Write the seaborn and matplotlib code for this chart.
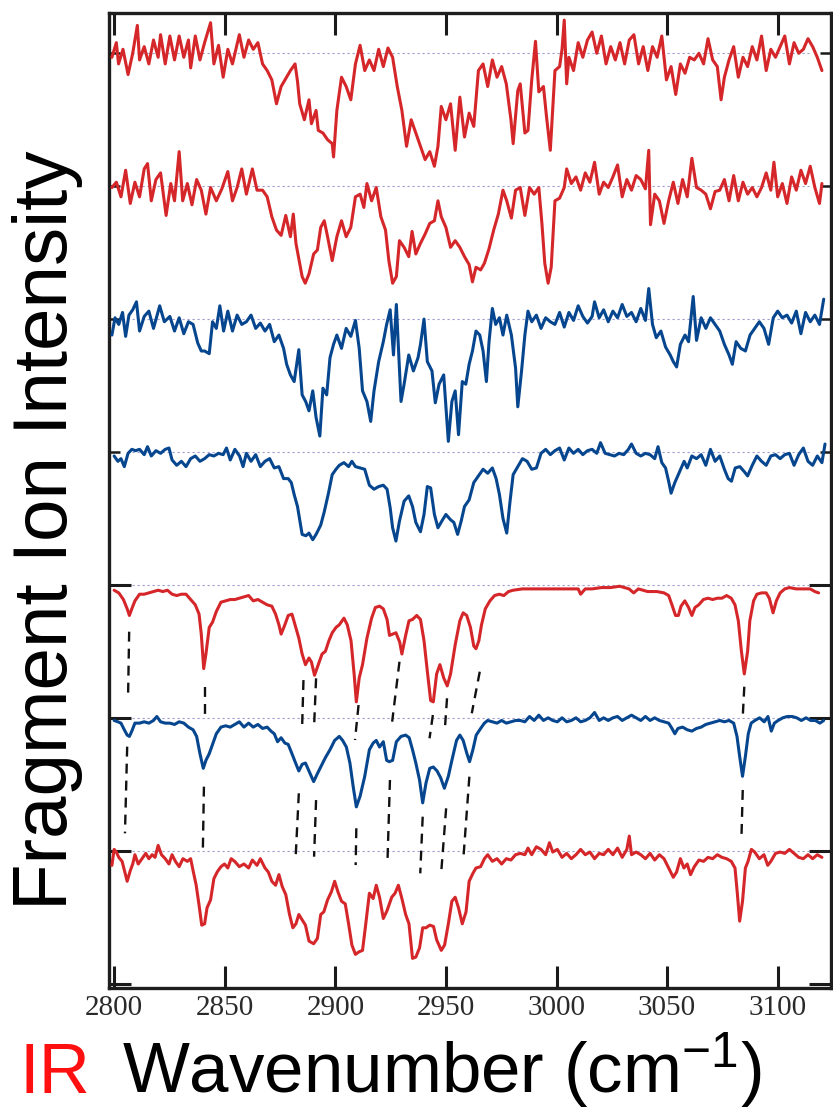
import matplotlib
matplotlib.use("Agg")
import matplotlib.pyplot as plt
import seaborn as sns
import numpy as np
import pandas as pd

# ---- spectra, top to bottom (wavenumber in cm-1, intensity normalised to baseline = 1) ----
wn1 = [2799, 2801, 2802, 2804, 2806.3, 2808.4, 2810.5, 2811.5, 2813.6, 2815.7,
       2817.8, 2819.9, 2821, 2823.1, 2825.2, 2827.3, 2829.4, 2831.5, 2833.6, 2834.6,
       2836.7, 2838.8, 2840.9, 2843.6, 2845.1, 2847.2, 2849.3, 2851.4, 2853.5, 2856.6,
       2858.7, 2860.8, 2862.9, 2865, 2867.1, 2869.2, 2871.3, 2873.4, 2875.5, 2877.6,
       2879.7, 2881.8, 2882.9, 2883.9, 2886, 2888.1, 2889.2, 2891.3, 2892.3, 2894.4,
       2896.5, 2898.6, 2899.2, 2900.7, 2902.8, 2904.9, 2907, 2909.1, 2911.2, 2913.3,
       2915.4, 2917.5, 2919.6, 2921.7, 2923.8, 2925.9, 2928, 2930.1, 2932.2, 2934.3,
       2936.4, 2938.5, 2940.6, 2942.7, 2944.8, 2946.4, 2947.9, 2950, 2952.1, 2954.2,
       2956.3, 2958.4, 2960.5, 2962.6, 2964.7, 2966.8, 2968.9, 2971, 2973.1, 2975.2,
       2977.3, 2979.4, 2980.4, 2982.5, 2983.6, 2985.7, 2987.1, 2988.8, 2990.5, 2992,
       2994.1, 2995.5, 2997.2, 2999.3, 3001.4, 3002.5, 3003.5, 3004.6, 3005.6, 3007.7,
       3009.8, 3011.9, 3014, 3016.1, 3018.2, 3020.3, 3022.4, 3024.5, 3026.6, 3028.7,
       3030.8, 3032.9, 3035, 3037.1, 3039.2, 3041.3, 3043.4, 3045.5, 3047.6, 3049.7,
       3051.8, 3053.9, 3056, 3058.1, 3060.2, 3062.3, 3064.4, 3066.5, 3068.5, 3070.6,
       3072.7, 3074.4, 3075.9, 3078, 3080.1, 3082.2, 3084.3, 3086.4, 3088.5, 3090.6,
       3092.7, 3094.8, 3096.9, 3099, 3101.1, 3103.2, 3105.3, 3107.4, 3109.5, 3111.6,
       3113.7, 3115.8, 3117.9, 3120]
int1 = [0.97, 1.08, 0.92, 1.03, 0.84, 1.00, 1.21, 0.95, 1.05, 0.92,
        1.10, 0.97, 1.14, 0.92, 1.13, 0.95, 1.13, 0.97, 1.10, 0.89,
        1.13, 0.95, 1.08, 1.23, 0.92, 1.06, 0.82, 1.03, 0.92, 1.14,
        0.97, 1.10, 1.03, 1.08, 0.92, 0.87, 0.80, 0.62, 0.75, 0.81,
        0.87, 0.92, 0.79, 0.62, 0.50, 0.65, 0.47, 0.57, 0.42, 0.40,
        0.35, 0.32, 0.22, 0.57, 0.82, 0.75, 0.65, 0.92, 1.06, 0.87,
        0.95, 0.87, 1.03, 0.90, 1.04, 0.97, 0.75, 0.57, 0.30, 0.50,
        0.40, 0.30, 0.20, 0.26, 0.15, 0.30, 0.60, 0.50, 0.62, 0.27,
        0.67, 0.37, 0.55, 0.45, 0.87, 0.92, 0.75, 0.95, 0.82, 0.90,
        0.77, 0.50, 0.32, 0.72, 0.77, 0.40, 0.42, 0.80, 1.09, 0.71,
        0.75, 0.52, 0.27, 0.87, 0.90, 1.03, 1.25, 0.77, 0.97, 0.87,
        1.08, 0.97, 1.10, 1.16, 1.00, 1.13, 0.92, 1.05, 0.95, 1.08,
        0.92, 1.10, 1.14, 0.92, 1.05, 0.87, 1.05, 0.97, 1.13, 0.80,
        0.90, 0.69, 0.92, 0.85, 0.97, 0.95, 1.00, 0.92, 1.11, 0.95,
        0.90, 0.65, 0.82, 0.95, 1.05, 0.82, 0.97, 0.90, 1.05, 0.95,
        1.13, 0.87, 1.03, 0.97, 1.05, 1.13, 0.92, 1.08, 1.00, 1.03,
        1.11, 1.05, 0.97, 0.87]

wn2 = [2799, 2801, 2803.1, 2805.2, 2807.3, 2809.4, 2811.5, 2813.6, 2815.1, 2816.8,
       2818.9, 2821, 2823.5, 2825.6, 2827.3, 2829.4, 2831, 2833.1, 2835.2, 2837.3,
       2839.4, 2841.5, 2843.6, 2846.2, 2848.7, 2851.4, 2853.5, 2855.6, 2857.7, 2859.8,
       2862.5, 2864.6, 2867.1, 2869.2, 2871.3, 2873.4, 2875.5, 2877.6, 2879.7, 2881,
       2882.2, 2883.9, 2885, 2886.4, 2888.1, 2890.2, 2891.9, 2893.4, 2895, 2896.5,
       2898.6, 2900.7, 2902.8, 2904.9, 2907, 2909.1, 2911.2, 2912.9, 2914.3, 2916.4,
       2918.5, 2920.6, 2922.7, 2924.2, 2925.9, 2927.6, 2929, 2931.1, 2933.2, 2934.7,
       2936.4, 2938.5, 2940.6, 2942.7, 2944.8, 2946.4, 2947.9, 2950, 2952.1, 2954.2,
       2956.3, 2958.4, 2960.5, 2962, 2963.6, 2965.7, 2967.4, 2969.5, 2971.6, 2973.7,
       2975.8, 2977.5, 2979.6, 2981.5, 2983.6, 2985.7, 2987.8, 2989.9, 2992, 2993.4,
       2994.7, 2996.2, 2997.6, 2999.3, 3001.4, 3003.5, 3004.6, 3006.7, 3008.8, 3010.9,
       3013, 3015.1, 3017.2, 3019.3, 3021.3, 3023.4, 3025.5, 3027.6, 3029.7, 3031.8,
       3033.9, 3036, 3038.1, 3040.2, 3041.7, 3042.5, 3044.4, 3046.5, 3048.6, 3050.7,
       3052.8, 3054.9, 3057, 3059.1, 3061.2, 3063.3, 3065.4, 3067.5, 3069.6, 3071.7,
       3073.8, 3075.9, 3078, 3080.1, 3082.2, 3084.3, 3086.4, 3088.5, 3090.6, 3092.7,
       3094.8, 3096.9, 3098.3, 3100, 3102.1, 3104.2, 3106.3, 3108.4, 3110.5, 3112.6,
       3114.7, 3116.8, 3118.9, 3120]
int2 = [0.99, 1.03, 0.92, 1.12, 0.87, 1.03, 0.92, 1.13, 1.17, 0.89,
        1.05, 1.10, 0.78, 1.02, 0.89, 1.26, 0.89, 1.02, 0.86, 1.05,
        0.97, 0.79, 0.99, 0.89, 0.98, 1.11, 0.89, 0.99, 1.13, 0.94,
        1.13, 0.97, 0.97, 0.92, 0.77, 0.67, 0.63, 0.78, 0.62, 0.79,
        0.57, 0.42, 0.32, 0.27, 0.34, 0.49, 0.52, 0.69, 0.74, 0.62,
        0.44, 0.62, 0.74, 0.62, 0.69, 0.92, 0.94, 0.84, 1.02, 0.89,
        0.99, 0.77, 0.67, 0.44, 0.27, 0.32, 0.59, 0.54, 0.47, 0.66,
        0.49, 0.57, 0.64, 0.72, 0.74, 0.89, 0.77, 0.69, 0.54, 0.59,
        0.54, 0.47, 0.41, 0.28, 0.39, 0.37, 0.42, 0.53, 0.67, 0.79,
        0.97, 0.89, 0.76, 0.97, 0.99, 0.78, 0.99, 0.94, 0.99, 0.72,
        0.42, 0.27, 0.39, 0.89, 0.91, 0.99, 1.13, 1.02, 1.07, 0.97,
        1.10, 1.03, 1.18, 0.94, 1.03, 0.99, 1.07, 1.16, 0.92, 1.05,
        0.97, 1.08, 1.05, 0.98, 1.27, 0.71, 0.94, 0.89, 0.72, 0.89,
        1.03, 0.87, 1.05, 0.92, 1.21, 0.99, 0.97, 0.94, 0.83, 0.96,
        0.97, 1.05, 0.89, 1.08, 0.89, 1.03, 0.94, 0.99, 0.92, 0.99,
        1.10, 0.97, 1.18, 0.92, 1.02, 0.87, 1.07, 0.97, 1.12, 1.02,
        1.15, 0.99, 0.87, 1.02]

wn3 = [2799, 2800.4, 2802.1, 2803.8, 2805.2, 2806.7, 2808.4, 2810.1, 2811.5, 2813.6,
       2815.7, 2817.8, 2820.6, 2822.7, 2825.2, 2827.3, 2829.4, 2831.5, 2833.6, 2835.7,
       2837.8, 2839.4, 2840.9, 2843, 2844.5, 2846.2, 2847.8, 2849.5, 2851.4, 2853.5,
       2855.6, 2857.7, 2859.8, 2861.9, 2864, 2866.1, 2868.2, 2870.3, 2872.4, 2874.5,
       2876.6, 2878, 2879.7, 2881.4, 2883.5, 2885, 2886.6, 2888.1, 2889.8, 2891.3,
       2893, 2894.4, 2896.1, 2897.6, 2899.2, 2900.7, 2902.8, 2904.9, 2907, 2909.1,
       2910.8, 2912.3, 2914.3, 2916, 2917.5, 2919.6, 2921.7, 2923.2, 2924.8, 2926.3,
       2927.6, 2929.7, 2931.1, 2933.2, 2935.3, 2937.4, 2938.5, 2940.1, 2941.6, 2943.7,
       2945.2, 2946.9, 2949, 2951.1, 2952.7, 2954.2, 2955.7, 2957.4, 2959, 2960.5,
       2962, 2963.6, 2965.3, 2966.8, 2968.3, 2969.5, 2971, 2972.5, 2974.2, 2975.8,
       2977.5, 2979.6, 2981.5, 2982.5, 2984.2, 2985.7, 2987.1, 2988.8, 2990.9, 2993,
       2995.1, 2997.2, 2999.3, 3001.4, 3003.5, 3005.6, 3007.7, 3009.8, 3011.9, 3014,
       3016.1, 3017.2, 3019.3, 3021.3, 3023.4, 3025.5, 3027.6, 3029.7, 3031.8, 3033.9,
       3036, 3038.1, 3040.2, 3041.7, 3043.4, 3045.1, 3047.2, 3049.3, 3051.4, 3052.8,
       3054.3, 3056, 3058.1, 3059.7, 3061.8, 3063.3, 3065.4, 3067.5, 3069.6, 3071.7,
       3073.8, 3075.9, 3078, 3079.5, 3081.2, 3083.3, 3085.4, 3087.5, 3089.6, 3091.7,
       3093.8, 3095.9, 3098, 3100, 3102.1, 3104.2, 3106.3, 3108.4, 3110.5, 3112.6,
       3114.7, 3116.8, 3118.9, 3120.8]
int3 = [0.88, 1.01, 0.96, 1.05, 0.87, 1.03, 1.07, 1.13, 0.91, 1.02,
        1.06, 0.93, 1.10, 0.98, 1.02, 0.91, 1.01, 0.89, 0.98, 0.96,
        0.82, 0.76, 0.76, 0.74, 0.98, 0.93, 1.10, 0.91, 1.06, 0.91,
        1.03, 0.96, 0.98, 1.03, 0.93, 0.97, 0.91, 0.96, 0.83, 0.88,
        0.78, 0.66, 0.58, 0.53, 0.77, 0.43, 0.38, 0.31, 0.46, 0.26,
        0.12, 0.48, 0.43, 0.71, 0.81, 0.88, 0.78, 0.93, 0.87, 0.99,
        0.78, 0.46, 0.38, 0.23, 0.46, 0.68, 0.83, 0.96, 1.07, 0.73,
        1.11, 0.38, 0.51, 0.73, 0.61, 0.71, 0.81, 1.00, 0.68, 0.61,
        0.37, 0.51, 0.58, 0.08, 0.38, 0.46, 0.13, 0.53, 0.51, 0.66,
        0.76, 0.91, 0.88, 0.76, 0.53, 0.83, 1.08, 0.96, 1.01, 0.88,
        1.03, 0.88, 0.63, 0.34, 0.61, 0.88, 1.06, 0.98, 1.03, 0.93,
        1.01, 0.98, 0.96, 1.05, 0.94, 1.05, 0.99, 1.10, 1.02, 0.97,
        1.02, 1.13, 1.01, 1.07, 0.98, 1.06, 1.01, 1.11, 1.02, 1.05,
        0.98, 1.08, 0.99, 1.23, 0.96, 0.86, 0.91, 0.79, 0.73, 0.68,
        0.64, 0.81, 0.88, 0.83, 1.17, 0.84, 1.01, 0.93, 1.01, 0.96,
        0.91, 0.81, 0.73, 0.66, 0.83, 0.78, 0.76, 0.88, 0.93, 0.98,
        0.93, 0.81, 1.01, 1.06, 1.01, 1.03, 0.97, 1.06, 0.89, 1.05,
        0.98, 1.03, 0.96, 1.15]

wn4 = [2800, 2801.7, 2803.1, 2804.6, 2806.3, 2808, 2809.7, 2811.5, 2813.6, 2815.1,
       2816.8, 2818.9, 2821, 2823.1, 2824.8, 2826.2, 2828.3, 2830.4, 2832.5, 2834.6,
       2836.7, 2838.8, 2840.9, 2843, 2845.1, 2847.2, 2849.3, 2850.8, 2852.5, 2854.6,
       2856.7, 2858.3, 2859.8, 2861.9, 2864, 2866.1, 2868.2, 2870.3, 2872.4, 2874.5,
       2876.6, 2878.7, 2880.1, 2881.4, 2882.9, 2884, 2885, 2886.7, 2888.1, 2889.8,
       2891.3, 2893.4, 2895, 2896.9, 2898.6, 2900.3, 2901.8, 2903.9, 2906, 2907.5,
       2909.1, 2911.2, 2913.3, 2915.4, 2917.5, 2919.6, 2921.7, 2923.4, 2924.8, 2925.9,
       2927.4, 2929, 2931.1, 2933.2, 2934.9, 2936.4, 2938.5, 2940.1, 2941.6, 2943.1,
       2944.8, 2946.4, 2948.5, 2950, 2952.1, 2953.6, 2955.3, 2956.9, 2958.4, 2960.5,
       2962.6, 2964.7, 2966.8, 2968.9, 2971, 2972.7, 2974.2, 2975.8, 2977.5, 2979,
       2980.4, 2982.5, 2984.6, 2986.7, 2988.8, 2990.9, 2993, 2995.1, 2997.2, 2999.3,
       3001.4, 3003.5, 3005.6, 3007.7, 3009.8, 3011.9, 3014, 3016.1, 3018.2, 3019.9,
       3022, 3024.1, 3026.2, 3028.3, 3030.4, 3032.5, 3033.9, 3036, 3038.1, 3040.2,
       3042.3, 3044.4, 3045.9, 3047.6, 3049.3, 3050.7, 3051.8, 3053.5, 3055.6, 3057.7,
       3059.1, 3061.2, 3063.3, 3065.4, 3067.5, 3069.6, 3071.7, 3073.8, 3075.9, 3077.6,
       3079.1, 3080.8, 3082.9, 3085, 3086.4, 3088.5, 3090.6, 3092.7, 3094.8, 3096.9,
       3099, 3101.1, 3103.2, 3105.3, 3107.4, 3109.5, 3111.6, 3113.7, 3115.8, 3117.9,
       3120, 3121.4]
int4 = [0.97, 0.93, 0.95, 0.89, 0.99, 1.02, 1.01, 1.02, 0.98, 1.04,
        0.97, 1.01, 0.99, 1.02, 1.03, 0.94, 0.90, 0.93, 0.89, 0.95,
        0.97, 0.93, 0.95, 0.98, 0.97, 0.99, 0.98, 1.03, 0.94, 1.02,
        0.97, 0.89, 0.99, 0.93, 0.98, 0.89, 0.93, 0.95, 0.88, 0.89,
        0.80, 0.80, 0.77, 0.68, 0.59, 0.48, 0.38, 0.37, 0.39, 0.34,
        0.38, 0.45, 0.55, 0.69, 0.83, 0.87, 0.90, 0.92, 0.89, 0.93,
        0.89, 0.88, 0.87, 0.75, 0.72, 0.74, 0.75, 0.72, 0.58, 0.43,
        0.33, 0.48, 0.63, 0.67, 0.59, 0.47, 0.40, 0.53, 0.74, 0.73,
        0.53, 0.43, 0.49, 0.53, 0.49, 0.47, 0.38, 0.48, 0.59, 0.64,
        0.77, 0.82, 0.87, 0.84, 0.88, 0.80, 0.68, 0.50, 0.39, 0.63,
        0.83, 0.89, 0.95, 0.93, 0.87, 0.88, 0.99, 1.02, 0.98, 1.01,
        1.03, 0.94, 1.03, 0.99, 1.02, 0.98, 1.01, 1.02, 0.99, 1.07,
        0.99, 0.98, 0.97, 0.99, 0.98, 1.02, 1.06, 0.99, 0.97, 0.99,
        0.98, 0.95, 1.04, 0.92, 0.88, 0.78, 0.69, 0.77, 0.85, 0.93,
        0.88, 0.97, 0.95, 0.98, 0.90, 1.02, 0.93, 0.97, 0.87, 0.80,
        0.78, 0.88, 0.89, 0.85, 0.82, 0.90, 0.97, 0.93, 0.90, 0.97,
        0.98, 0.95, 0.98, 0.99, 0.90, 0.98, 1.03, 0.93, 0.90, 0.97,
        0.92, 1.06]

wn5 = [2800, 2802.1, 2804.2, 2805.9, 2806.9, 2808, 2809.4, 2811.5, 2813.6, 2815.7,
       2817.8, 2819.9, 2822, 2824.1, 2826.2, 2828.3, 2830.4, 2832.5, 2834.6, 2836.7,
       2838.4, 2839.4, 2840.5, 2841.5, 2843, 2844.5, 2846.2, 2848.3, 2850.4, 2852.5,
       2854.6, 2856.6, 2858.7, 2860.8, 2862.9, 2865, 2867.1, 2869.2, 2871.3, 2873,
       2874.5, 2875.5, 2877.2, 2878.7, 2880.4, 2881.8, 2883.5, 2885, 2886.5, 2888.1,
       2889.2, 2890.6, 2892.3, 2894, 2895.5, 2897.1, 2898.6, 2900.3, 2901.8, 2903.9,
       2905.4, 2907.1, 2908.5, 2909.5, 2910.8, 2912.3, 2914.3, 2916.4, 2918.1, 2920,
       2921.7, 2923.4, 2924.5, 2925.9, 2927.4, 2929.1, 2930.1, 2931.8, 2933.3, 2934.9,
       2936.8, 2938.5, 2940.1, 2941.6, 2943.1, 2944.3, 2945.8, 2947.3, 2949, 2950.6,
       2952.1, 2954.2, 2956.3, 2957.8, 2959.4, 2961.1, 2962.6, 2963.6, 2964.9, 2966.1,
       2967.8, 2969.9, 2972, 2974.1, 2976.2, 2978.3, 2980.4, 2984.6, 2988.8, 2993,
       2997.2, 3001.4, 3005.6, 3009.8, 3010.9, 3013, 3016.1, 3020.3, 3024.4, 3028.6,
       3032.8, 3034.9, 3037, 3041.2, 3045.4, 3048.6, 3050.7, 3052.2, 3053.8, 3055.1,
       3056.3, 3058, 3059.7, 3061.2, 3062.6, 3064.3, 3066.4, 3068.5, 3070.6, 3072.7,
       3074.8, 3076.9, 3079, 3080.7, 3082.2, 3083.6, 3084.9, 3086.4, 3087.4, 3089.1,
       3090.6, 3092.7, 3094.8, 3096.2, 3097.9, 3099.4, 3101.1, 3103.2, 3105.3, 3108.4,
       3111.6, 3114.7, 3116.8, 3118.5]
int5 = [0.96, 0.94, 0.89, 0.82, 0.77, 0.82, 0.88, 0.93, 0.93, 0.94,
        0.95, 0.96, 0.95, 0.96, 0.93, 0.92, 0.93, 0.93, 0.89, 0.85,
        0.78, 0.63, 0.37, 0.48, 0.68, 0.72, 0.80, 0.87, 0.88, 0.89,
        0.89, 0.90, 0.91, 0.92, 0.88, 0.89, 0.87, 0.85, 0.84, 0.78,
        0.70, 0.63, 0.70, 0.77, 0.78, 0.70, 0.60, 0.48, 0.40, 0.45,
        0.42, 0.32, 0.40, 0.48, 0.50, 0.58, 0.64, 0.68, 0.70, 0.75,
        0.70, 0.58, 0.33, 0.12, 0.30, 0.40, 0.60, 0.75, 0.83, 0.84,
        0.82, 0.74, 0.62, 0.63, 0.64, 0.57, 0.48, 0.62, 0.73, 0.74,
        0.77, 0.74, 0.58, 0.35, 0.13, 0.12, 0.33, 0.40, 0.30, 0.24,
        0.33, 0.55, 0.73, 0.79, 0.77, 0.68, 0.54, 0.52, 0.58, 0.70,
        0.82, 0.88, 0.92, 0.93, 0.92, 0.95, 0.96, 0.97, 0.97, 0.97,
        0.97, 0.97, 0.97, 0.97, 0.93, 0.97, 0.97, 0.98, 0.98, 0.99,
        0.97, 0.94, 0.97, 0.95, 0.95, 0.94, 0.92, 0.85, 0.77, 0.77,
        0.84, 0.88, 0.83, 0.77, 0.83, 0.85, 0.89, 0.90, 0.89, 0.90,
        0.90, 0.92, 0.90, 0.85, 0.73, 0.50, 0.33, 0.50, 0.73, 0.88,
        0.93, 0.94, 0.94, 0.90, 0.79, 0.88, 0.94, 0.97, 0.98, 0.97,
        0.97, 0.97, 0.95, 0.94]

wn6 = [2800, 2801.7, 2803.1, 2804.6, 2805.9, 2806.9, 2808, 2809.4, 2811.5, 2813.6,
       2815.7, 2817.8, 2819.3, 2821, 2823.1, 2825.2, 2827.3, 2829.4, 2831.5, 2833.6,
       2835.7, 2837.3, 2838.8, 2840.3, 2841.5, 2843, 2844.5, 2846.2, 2848.3, 2850.4,
       2852.5, 2854.6, 2856.6, 2858.7, 2860.8, 2862.9, 2865, 2867.1, 2869.2, 2870.9,
       2872.4, 2873.9, 2875.5, 2877.2, 2878.7, 2880.4, 2881.8, 2883.5, 2885, 2886.5,
       2888.1, 2890.2, 2891.9, 2893.4, 2895.5, 2897.6, 2899.7, 2901.8, 2903.3, 2905,
       2906.6, 2908.1, 2909.5, 2911.2, 2913.3, 2915.4, 2917.1, 2918.5, 2920, 2921.7,
       2923.2, 2924.4, 2925.9, 2927.6, 2929.7, 2931.8, 2933.4, 2934.9, 2936.4, 2938.1,
       2939.5, 2941, 2942.7, 2944.3, 2946, 2947.6, 2949.3, 2951.1, 2952.7, 2954.8,
       2956.3, 2957.8, 2959.5, 2960.7, 2962.2, 2963.7, 2965.7, 2967.4, 2968.9, 2971,
       2973.1, 2975.2, 2977.3, 2979.4, 2981.5, 2983.6, 2985.7, 2987.8, 2989.9, 2992,
       2994.1, 2996.2, 2998.3, 3000.4, 3002.5, 3004.6, 3006.7, 3008.8, 3010.9, 3013,
       3015.1, 3017.2, 3019.3, 3021.3, 3023.4, 3025.5, 3027.6, 3029.7, 3031.8, 3033.9,
       3036, 3038.1, 3040.2, 3042.3, 3044.4, 3046.5, 3048.6, 3050.7, 3052.2, 3053.5,
       3054.9, 3057, 3059.1, 3061.2, 3063.3, 3065.4, 3067.5, 3069.6, 3071.7, 3073.8,
       3075.9, 3078, 3080.1, 3081.6, 3082.8, 3084.1, 3085.4, 3086.7, 3088, 3089.7,
       3091.8, 3093.9, 3095.6, 3097.1, 3098.5, 3100.2, 3102.3, 3104.4, 3106.5, 3108.6,
       3110.7, 3112.8, 3114.9, 3117, 3119.1, 3120.8]
int6 = [0.98, 0.97, 0.96, 0.91, 0.87, 0.86, 0.90, 0.96, 0.96, 0.97,
        0.96, 0.98, 1.01, 0.97, 0.96, 0.96, 0.95, 0.97, 0.96, 0.93,
        0.91, 0.86, 0.73, 0.62, 0.68, 0.73, 0.80, 0.88, 0.93, 0.94,
        0.93, 0.95, 0.97, 0.93, 0.96, 0.93, 0.95, 0.92, 0.93, 0.90,
        0.88, 0.82, 0.85, 0.81, 0.80, 0.73, 0.67, 0.60, 0.65, 0.66,
        0.60, 0.52, 0.58, 0.63, 0.70, 0.76, 0.83, 0.86, 0.83, 0.78,
        0.66, 0.48, 0.33, 0.41, 0.56, 0.76, 0.81, 0.83, 0.78, 0.82,
        0.68, 0.67, 0.68, 0.82, 0.86, 0.87, 0.85, 0.76, 0.66, 0.53,
        0.36, 0.51, 0.62, 0.63, 0.60, 0.55, 0.47, 0.56, 0.68, 0.83,
        0.87, 0.83, 0.73, 0.67, 0.76, 0.87, 0.92, 0.96, 0.98, 0.97,
        0.96, 0.98, 0.96, 0.97, 0.98, 0.98, 0.97, 1.01, 0.98, 1.02,
        0.98, 1.00, 0.98, 0.97, 1.00, 0.97, 0.98, 1.00, 0.97, 0.98,
        1.00, 1.04, 0.98, 1.00, 0.98, 1.00, 1.01, 0.98, 1.00, 1.02,
        1.00, 0.98, 1.01, 0.98, 1.00, 0.98, 0.97, 0.96, 0.92, 0.88,
        0.92, 0.93, 0.91, 0.90, 0.92, 0.93, 0.95, 0.96, 0.97, 0.98,
        0.97, 0.98, 0.96, 0.86, 0.71, 0.56, 0.71, 0.88, 0.96, 0.98,
        1.00, 0.97, 1.01, 0.90, 0.96, 0.98, 1.00, 1.01, 1.01, 1.00,
        0.98, 1.00, 0.98, 0.98, 0.96, 0.98]

wn7 = [2799, 2800, 2801, 2802.1, 2803.6, 2804.8, 2805.9, 2807.3, 2808.4, 2809.4,
       2810.9, 2812.6, 2814.3, 2815.7, 2817.2, 2818.5, 2819.9, 2821.4, 2823.1, 2824.8,
       2826.2, 2827.7, 2829.4, 2831.1, 2833.1, 2834.6, 2835.7, 2837.1, 2838.4, 2839.6,
       2840.9, 2842, 2843.6, 2845.1, 2846.6, 2848.3, 2849.9, 2851.4, 2852.9, 2854.5,
       2856.6, 2858.7, 2860.8, 2862.5, 2864.6, 2866.1, 2868.2, 2869.7, 2871.3, 2873,
       2874.5, 2876, 2877.6, 2879.3, 2880.8, 2882.2, 2883.5, 2885, 2886.5, 2888.1,
       2890.2, 2891.9, 2893.4, 2894.8, 2896.5, 2898.2, 2899.7, 2901.2, 2902.8, 2904.5,
       2906, 2907.5, 2909.1, 2910.8, 2912.3, 2913.7, 2915.4, 2917.1, 2918.5, 2920,
       2921.7, 2923.4, 2925.5, 2927, 2928.5, 2930.1, 2931.8, 2933.3, 2934.9, 2936.4,
       2938.1, 2939.5, 2941, 2942.7, 2944.4, 2945.8, 2947.9, 2949.4, 2951.1, 2952.7,
       2954.2, 2955.7, 2957.4, 2959.1, 2960.5, 2962.2, 2963.6, 2965.7, 2967.4, 2968.9,
       2971, 2973.1, 2975.2, 2977.3, 2979.4, 2981.5, 2983.6, 2985.7, 2987.1, 2988.8,
       2990.9, 2993, 2995.1, 2996.8, 2998.3, 3000.4, 3002.5, 3004.6, 3006.7, 3008.8,
       3010.9, 3013, 3015.1, 3017.2, 3019.3, 3021.3, 3023.4, 3025.5, 3027.6, 3029.7,
       3031.8, 3032.9, 3033.9, 3036, 3038.1, 3040.2, 3042.3, 3044.4, 3046.5, 3048.6,
       3050.7, 3052.8, 3054.3, 3056, 3057.6, 3059.1, 3060.6, 3062.3, 3064.4, 3066.5,
       3068.5, 3070.6, 3072.7, 3074.8, 3076.9, 3079, 3080.7, 3081.8, 3082.8, 3084.1,
       3085.4, 3086.6, 3088.1, 3089.6, 3091.7, 3093.8, 3095.5, 3096.9, 3099, 3101.1,
       3103.2, 3105.3, 3107.4, 3109.5, 3111.6, 3113.7, 3115.8, 3117.9, 3120]
int7 = [0.89, 1.01, 0.99, 0.95, 0.92, 0.84, 0.77, 0.85, 0.90, 0.97,
        0.90, 0.94, 0.98, 0.94, 0.97, 0.95, 1.04, 0.97, 0.94, 0.90,
        0.97, 0.92, 0.88, 0.94, 0.92, 0.94, 0.85, 0.74, 0.59, 0.44,
        0.45, 0.57, 0.63, 0.79, 0.84, 0.88, 0.90, 0.87, 0.94, 0.92,
        0.88, 0.90, 0.87, 0.93, 0.89, 0.94, 0.87, 0.84, 0.77, 0.74,
        0.82, 0.73, 0.67, 0.52, 0.42, 0.45, 0.52, 0.48, 0.44, 0.32,
        0.30, 0.34, 0.52, 0.54, 0.63, 0.69, 0.77, 0.69, 0.62, 0.60,
        0.45, 0.29, 0.22, 0.24, 0.25, 0.44, 0.68, 0.64, 0.74, 0.65,
        0.49, 0.55, 0.65, 0.68, 0.74, 0.64, 0.52, 0.45, 0.19, 0.20,
        0.27, 0.42, 0.42, 0.44, 0.43, 0.33, 0.25, 0.29, 0.45, 0.62,
        0.65, 0.57, 0.45, 0.54, 0.77, 0.83, 0.87, 0.88, 0.94, 0.97,
        0.92, 0.94, 0.90, 0.94, 0.93, 0.97, 0.98, 0.97, 1.02, 0.97,
        1.03, 1.01, 0.97, 1.06, 0.99, 1.01, 0.95, 0.98, 0.94, 0.97,
        1.01, 0.97, 0.99, 0.94, 0.98, 0.97, 1.01, 0.97, 1.02, 0.95,
        1.01, 1.11, 0.97, 0.99, 0.97, 0.94, 0.98, 0.93, 0.97, 0.94,
        0.87, 0.80, 0.84, 0.94, 0.87, 0.90, 0.82, 0.88, 0.93, 0.92,
        0.95, 0.94, 0.97, 0.95, 0.94, 0.92, 0.87, 0.67, 0.47, 0.62,
        0.87, 0.92, 1.01, 0.99, 0.94, 0.97, 0.89, 0.92, 0.98, 0.99,
        0.98, 1.01, 0.98, 0.95, 0.94, 0.97, 0.94, 0.97, 0.95]

TRACE_NAMES = ["s1", "s2", "s3", "s4", "s5", "s6", "s7"]
OFFSETS = [6, 5, 4, 3, 2, 1, 0]
RED = "#d5262a"
BLUE = "#06468f"
TRACE_COLORS = [RED, RED, BLUE, BLUE, RED, BLUE, RED]

# dashed correlation lines between the three lower spectra (wavenumber, stacked y)
upper_wn_top = [2806.8, 2841.2, 2885.6, 2891.3, 2910.5, 2929.0, 2944.1, 2950.5, 2965.3, 3084.9]
upper_wn_bot = [2806.3, 2841.2, 2885.0, 2890.4, 2908.9, 2925.7, 2942.6, 2949.6, 2961.7, 3084.2]
upper_y_top = [1.648, 1.234, 1.284, 1.297, 1.096, 1.422, 1.021, 1.147, 1.347, 1.234]
upper_y_bot = [1.159, 1.008, 0.933, 0.933, 0.833, 0.971, 0.846, 0.933, 1.034, 1.008]
lower_wn_top = [2805.9, 2840.6, 2883.5, 2891.3, 2909.5, 2924.7, 2939.5, 2950.1, 2960.6, 3084.2]
lower_wn_bot = [2804.9, 2840.1, 2882.0, 2890.4, 2909.2, 2923.6, 2938.4, 2947.9, 2957.9, 3083.6]
lower_y_top = [0.783, 0.482, 0.432, 0.381, 0.169, 0.532, 0.256, 0.319, 0.557, 0.457]
lower_y_bot = [0.131, -0.008, -0.070, -0.045, -0.108, -0.070, -0.170, -0.158, -0.057, 0.093]

X_TICKS = [2800, 2850, 2900, 2950, 3000, 3050, 3100]

sns.set_style("ticks")
plt.rcParams["font.family"] = ["Liberation Sans", "DejaVu Sans"]
plt.rcParams["mathtext.fontset"] = "custom"
plt.rcParams["mathtext.rm"] = "Liberation Sans"
plt.rcParams["mathtext.it"] = "Liberation Sans:italic"
plt.rcParams["mathtext.bf"] = "Liberation Sans:bold"
plt.rcParams["mathtext.default"] = "regular"

all_wn = [wn1, wn2, wn3, wn4, wn5, wn6, wn7]
all_int = [int1, int2, int3, int4, int5, int6, int7]
frames = []
for name, wn, inten, off in zip(TRACE_NAMES, all_wn, all_int, OFFSETS):
    assert len(wn) == len(inten), (name, len(wn), len(inten))
    frames.append(pd.DataFrame({"wavenumber": wn,
                                "signal": np.array(inten) - 1 + off,
                                "trace": name}))
df = pd.concat(frames, ignore_index=True)

fig = plt.figure(figsize=(8.33, 11.09), dpi=100)
ax = fig.add_axes([0.1309, 0.1091, 0.8667, 0.8794])

ax.hlines(OFFSETS, 2808, 3114, colors="#9d9dd2", linewidth=0.8,
          linestyles=(0, (2, 2.5)), zorder=1)

sns.lineplot(data=df, x="wavenumber", y="signal", hue="trace",
             hue_order=TRACE_NAMES,
             palette=dict(zip(TRACE_NAMES, TRACE_COLORS)),
             estimator=None, sort=False, legend=False,
             linewidth=2.2, ax=ax, zorder=3)

for wt, wb, yt, yb in zip(upper_wn_top + lower_wn_top, upper_wn_bot + lower_wn_bot,
                          upper_y_top + lower_y_top, upper_y_bot + lower_y_bot):
    ax.plot([wt, wb], [yt, yb], color="#111111", lw=1.7, dashes=(4.2, 3), zorder=2)

ax.set_xlim(2797.7, 3124.1)
ax.set_ylim(-1.033, 6.305)
ax.set_xlabel("")
ax.set_ylabel("")

ax.set_xticks(X_TICKS)
ax.set_xticklabels([str(t) for t in X_TICKS])
ax.tick_params(axis="x", which="major", direction="in", length=16, width=2.2,
               top=True, bottom=True, pad=5, labelsize=21,
               labelcolor="#2a2a2a", color="#1a1a1a",
               labelfontfamily="Liberation Serif")

ax.set_yticks([-1, 0, 1, 2])
ax.set_yticks([3, 4, 5, 6], minor=True)
ax.tick_params(axis="y", which="major", direction="in", length=16, width=2.2,
               left=True, right=True, labelleft=False, color="#1a1a1a")
ax.tick_params(axis="y", which="minor", direction="in", length=8, width=1.8,
               left=True, right=True, color="#1a1a1a")

for sp in ax.spines.values():
    sp.set_visible(True)
    sp.set_linewidth(2.4)
    sp.set_color("#1e1e1e")

fig.text(0.057, 0.522, "Fragment Ion Intensity", rotation=90,
         ha="center", va="center", fontsize=55, color="black")

fig.text(20 / 833, 16 / 1109, "IR", ha="left", va="baseline",
         fontsize=51, color="#ff1010")
fig.text(122 / 833, 16 / 1109, "Wavenumber (cm$^{-1}$)", ha="left",
         va="baseline", fontsize=51, color="black")

fig.savefig("out.png", dpi=100, facecolor="white")
